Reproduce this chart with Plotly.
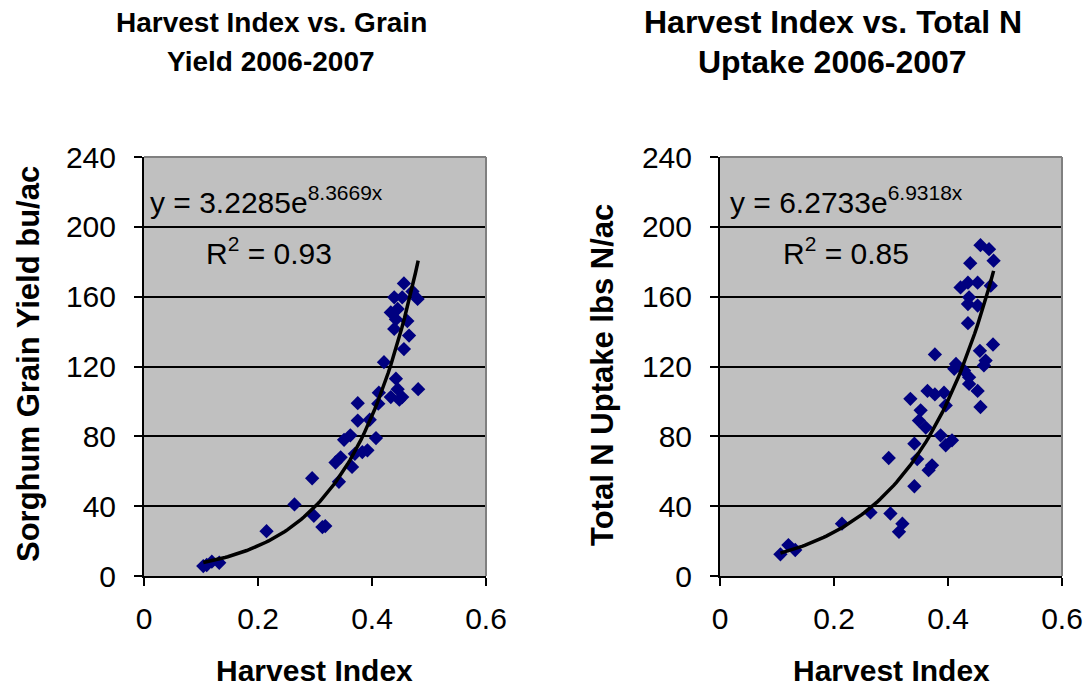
import numpy as np
import plotly.graph_objects as go

# Harvest index vs. grain yield (bu/ac), 2006-2007
yield_hi = [0.104, 0.110, 0.119, 0.132, 0.215, 0.264, 0.295, 0.298, 0.313, 0.318,
            0.342, 0.336, 0.345, 0.351, 0.362, 0.365, 0.375, 0.375, 0.383, 0.392,
            0.396, 0.407, 0.412, 0.411, 0.421, 0.433, 0.453, 0.442, 0.445, 0.481,
            0.456, 0.439, 0.439, 0.453, 0.433, 0.445, 0.456, 0.462, 0.465, 0.480,
            0.471, 0.442, 0.448, 0.370]
grain_yield = [5.7, 6.3, 8.2, 7.6, 25.7, 41, 56, 34.5, 28, 28.6,
               54, 65, 68, 78, 80.6, 62.5, 99, 89, 71, 72,
               89.5, 79, 105, 98.7, 122.5, 102.5, 102.5, 113, 107, 107,
               130, 141.5, 159.6, 159.6, 151, 153, 167.6, 146, 137.7, 158.7,
               163, 147, 101, 70]

# Harvest index vs. total N uptake (lbs N/ac), 2006-2007
uptake_hi = [0.106, 0.120, 0.132, 0.214, 0.264, 0.296, 0.299, 0.314, 0.320, 0.341,
             0.341, 0.346, 0.334, 0.352, 0.349, 0.361, 0.366, 0.372, 0.364, 0.377,
             0.377, 0.393, 0.396, 0.387, 0.396, 0.407, 0.414, 0.411, 0.428, 0.437,
             0.437, 0.452, 0.457, 0.456, 0.466, 0.463, 0.479, 0.435, 0.435, 0.452,
             0.437, 0.422, 0.435, 0.452, 0.475, 0.439, 0.457, 0.472, 0.480]
n_uptake = [12.4, 17.7, 14.9, 30, 36.4, 67.6, 35.8, 25.3, 30, 51.4,
            75.8, 67, 101.5, 94.9, 89, 85, 60.6, 63.4, 106, 126.9,
            104, 105, 97.7, 80.6, 74.9, 77.7, 121.5, 118.7, 117.7, 113.9,
            110, 106, 96.8, 129, 123.4, 120.6, 132.6, 144.8, 155.8, 154.9,
            159.6, 165.3, 168, 168, 166.3, 179.2, 189.5, 187.2, 180.6]

# Fitted exponential trendlines y = a * exp(b x)
yield_fit = (3.2285, 8.3669, "0.93")
uptake_fit = (6.2733, 6.9318, "0.85")

y_ticks = [0, 40, 80, 120, 160, 200, 240]
x_ticks = [0, 0.2, 0.4, 0.6]

W, H = 1088, 689
FONT = "Liberation Sans, Arial, sans-serif"
PLOT_BG = "#C0C0C0"
MARKER = "#000080"


def px_x(p):
    return p / W


def px_y(p):
    return 1 - p / H


fig = go.Figure()

panels = [
    ("x", "y", yield_hi, grain_yield, yield_fit),
    ("x2", "y2", uptake_hi, n_uptake, uptake_fit),
]
for xa, ya, hx, hy, (a, b, _) in panels:
    fig.add_trace(go.Scatter(
        x=hx, y=hy, mode="markers", xaxis=xa, yaxis=ya,
        marker=dict(symbol="diamond", size=11, color=MARKER, line=dict(width=0)),
        showlegend=False, hoverinfo="skip"))
    xs = np.linspace(min(hx), max(hx), 80)
    fig.add_trace(go.Scatter(
        x=xs, y=a * np.exp(b * xs), mode="lines", xaxis=xa, yaxis=ya,
        line=dict(color="black", width=3.5), showlegend=False, hoverinfo="skip"))

x_domains = [(144 / W, 486 / W), (720 / W, 1062 / W)]
y_domain = (px_y(576), px_y(157))

axis_common = dict(
    showline=True, linecolor="black", linewidth=2,
    ticks="outside", ticklen=8, tickwidth=2, tickcolor="black",
    tickfont=dict(family=FONT, size=30, color="black"),
    zeroline=False, automargin=False,
)

layout = dict(
    width=W, height=H,
    margin=dict(l=0, r=0, t=0, b=0),
    paper_bgcolor="white",
    plot_bgcolor=PLOT_BG,
    font=dict(family=FONT, color="black"),
)
for xd, suffix in zip(x_domains, ["", "2"]):
    layout["xaxis" + suffix] = dict(
        axis_common, domain=list(xd), range=[0, 0.6], tickvals=x_ticks,
        ticktext=["0", "0.2", "0.4", "0.6"], showgrid=False,
        anchor="y" + suffix, ticklabelstandoff=7)
    layout["yaxis" + suffix] = dict(
        axis_common, domain=list(y_domain), range=[0, 240], tickvals=y_ticks,
        showgrid=True, gridcolor="black", gridwidth=2,
        anchor="x" + suffix, ticklabelstandoff=12)
fig.update_layout(**layout)

# Gray frame on the top and right edges of each plot area
for suffix in ["", "2"]:
    fig.add_shape(type="line", xref="x" + suffix + " domain", yref="y" + suffix + " domain",
                  x0=0, x1=1, y0=1, y1=1, line=dict(color="#808080", width=2))
    fig.add_shape(type="line", xref="x" + suffix + " domain", yref="y" + suffix + " domain",
                  x0=1, x1=1, y0=0, y1=1, line=dict(color="#808080", width=2))

# Two-line chart titles, one annotation per line
titles = [
    (("Harvest Index vs. Grain", "Yield 2006-2007"), 271, 28),
    (("Harvest Index vs. Total N", "Uptake 2006-2007"), 832.5, 32),
]
for lines, cx, size in titles:
    for line, cy in zip(lines, (22, 62)):
        fig.add_annotation(text=f"<b>{line}</b>", xref="paper", yref="paper",
                           x=px_x(cx), y=px_y(cy), xanchor="center", yanchor="middle",
                           showarrow=False, font=dict(family=FONT, size=size, color="black"))

for cx in [314, 891]:
    fig.add_annotation(text="<b>Harvest Index</b>", xref="paper", yref="paper",
                       x=px_x(cx), y=px_y(670), xanchor="center", yanchor="middle",
                       showarrow=False, font=dict(family=FONT, size=30, color="black"))

for text, cx, cy in [("Sorghum Grain Yield bu/ac", 28, 364),
                     ("Total N Uptake lbs N/ac", 603, 375)]:
    fig.add_annotation(text=f"<b>{text}</b>", xref="paper", yref="paper",
                       x=px_x(cx), y=px_y(cy), xanchor="center", yanchor="middle",
                       textangle=-90, showarrow=False,
                       font=dict(family=FONT, size=31, color="black"))

# Trendline equations and R-squared
for (a, b, r2), ex, rx in [(yield_fit, 148, 204), (uptake_fit, 728, 781)]:
    fig.add_annotation(text=f"y = {a:.4f}e<sup>{b:.4f}x</sup>", xref="paper", yref="paper",
                       x=px_x(ex), y=px_y(200), xanchor="left", yanchor="middle",
                       showarrow=False, font=dict(family=FONT, size=30, color="black"))
    fig.add_annotation(text=f"R<sup>2</sup> = {r2}", xref="paper", yref="paper",
                       x=px_x(rx), y=px_y(251), xanchor="left", yanchor="middle",
                       showarrow=False, font=dict(family=FONT, size=30, color="black"))

fig.write_html("out.html")
